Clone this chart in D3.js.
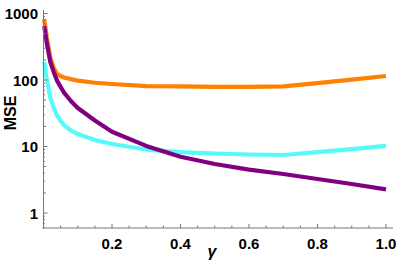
<!DOCTYPE html>
<html>
<head>
<meta charset="utf-8">
<script src="https://cdn.jsdelivr.net/npm/d3@7"></script>
<style>
  body { margin: 0; background: #fff; }
  svg text { font-family: "Liberation Sans", Arial, sans-serif; font-weight: bold; fill: #000; }
</style>
</head>
<body>
<div id="chart"></div>
<script>
"use strict";

// gamma grid shared by all three curves
var gammas = [0.002, 0.01, 0.02, 0.03, 0.04, 0.05, 0.06, 0.08, 0.1, 0.15, 0.2, 0.3, 0.4, 0.5, 0.6, 0.7, 0.8, 0.9, 1.0];

// MSE values
var orangeMse = [827, 427, 215, 152, 123, 115, 109, 103, 98, 91, 87, 81, 80, 79, 79, 80, 90, 101, 115];
var cyanMse   = [186, 100, 54, 38, 29, 24.2, 21, 17.4, 15.4, 12.5, 10.9, 9.0, 8.25, 7.85, 7.58, 7.45, 8.25, 9.15, 10.2];
var purpleMse = [645, 348, 186, 131, 97, 78.6, 64.6, 48.3, 38, 24.6, 16.7, 10.2, 7.0, 5.45, 4.5, 3.86, 3.25, 2.73, 2.27];

var xTicks = [0.2, 0.4, 0.6, 0.8, 1.0];
var xMinor = d3.range(0.05, 1.001, 0.05);
var yTicks = [1, 10, 100, 1000];

var series = [
    { name: "orange", values: orangeMse, color: "#ff8000" },
    { name: "cyan", values: cyanMse, color: "#55fbfb" },
    { name: "purple", values: purpleMse, color: "#800080" }
];

var width = 399, height = 270;

var x = d3.scaleLinear().domain([0, 1]).range([43.5, 386]);
var y = d3.scaleLog().domain([1, 1000]).range([213, 13.5]);

var svg = d3.select("#chart").append("svg")
    .attr("width", width)
    .attr("height", height);

// lines first, axes drawn on top
var line = d3.line()
    .x(function (d) { return x(d[0]); })
    .y(function (d) { return y(d[1]); });

svg.append("g").selectAll("path")
    .data(series)
    .enter().append("path")
    .attr("d", function (s) {
        return line(gammas.map(function (g, i) { return [g, s.values[i]]; }));
    })
    .attr("fill", "none")
    .attr("stroke", function (s) { return s.color; })
    .attr("stroke-width", 4.2)
    .attr("stroke-linejoin", "round");

var axisColor = "#777";
var xAxisY = 228, yAxisX = 43.5;

// x axis
var gx = svg.append("g");
gx.append("line")
    .attr("x1", yAxisX - 1).attr("x2", 393)
    .attr("y1", xAxisY).attr("y2", xAxisY)
    .attr("stroke", axisColor).attr("stroke-width", 1);
gx.selectAll("line.minor")
    .data(xMinor)
    .enter().append("line")
    .attr("class", "minor")
    .attr("x1", function (d) { return x(d); }).attr("x2", function (d) { return x(d); })
    .attr("y1", xAxisY).attr("y2", function (d) {
        return xTicks.some(function (t) { return Math.abs(t - d) < 1e-6; }) ? xAxisY - 4 : xAxisY - 2.5;
    })
    .attr("stroke", axisColor).attr("stroke-width", 1);
gx.selectAll("text")
    .data(xTicks)
    .enter().append("text")
    .attr("x", function (d) { return x(d); })
    .attr("y", 249)
    .attr("text-anchor", "middle")
    .attr("font-size", 15)
    .text(function (d) { return d3.format(".1f")(d); });

// y axis
var gy = svg.append("g");
gy.append("line")
    .attr("x1", yAxisX).attr("x2", yAxisX)
    .attr("y1", 10).attr("y2", xAxisY)
    .attr("stroke", axisColor).attr("stroke-width", 1);

var yMinor = [];
[0.1, 1, 10, 100, 1000].forEach(function (dec) {
    [2, 3, 4, 5, 6, 7, 8, 9].forEach(function (m) {
        var v = dec * m;
        if (y(v) >= 10 && y(v) <= xAxisY) yMinor.push(v);
    });
});
gy.selectAll("line.minor")
    .data(yMinor)
    .enter().append("line")
    .attr("x1", yAxisX).attr("x2", function (d) {
        var m = Math.round(d / Math.pow(10, Math.floor(Math.log10(d) + 1e-9)));
        return yAxisX + (m === 2 || m === 5 ? 2.5 : 1.5);
    })
    .attr("y1", function (d) { return y(d); }).attr("y2", function (d) { return y(d); })
    .attr("stroke", axisColor).attr("stroke-width", 1);
gy.selectAll("line.major")
    .data(yTicks)
    .enter().append("line")
    .attr("x1", yAxisX).attr("x2", yAxisX + 4)
    .attr("y1", function (d) { return y(d); }).attr("y2", function (d) { return y(d); })
    .attr("stroke", axisColor).attr("stroke-width", 1);
gy.selectAll("text")
    .data(yTicks)
    .enter().append("text")
    .attr("x", 38)
    .attr("y", function (d) { return y(d) + 5.5; })
    .attr("text-anchor", "end")
    .attr("font-size", 15)
    .text(function (d) { return d; });

// axis titles
svg.append("text")
    .attr("transform", "translate(16,113) rotate(-90)")
    .attr("text-anchor", "middle")
    .attr("font-size", 16)
    .text("MSE");

svg.append("text")
    .attr("x", 212)
    .attr("y", 257)
    .attr("text-anchor", "middle")
    .attr("font-size", 16)
    .attr("font-style", "italic")
    .text("γ");
</script>
</body>
</html>
